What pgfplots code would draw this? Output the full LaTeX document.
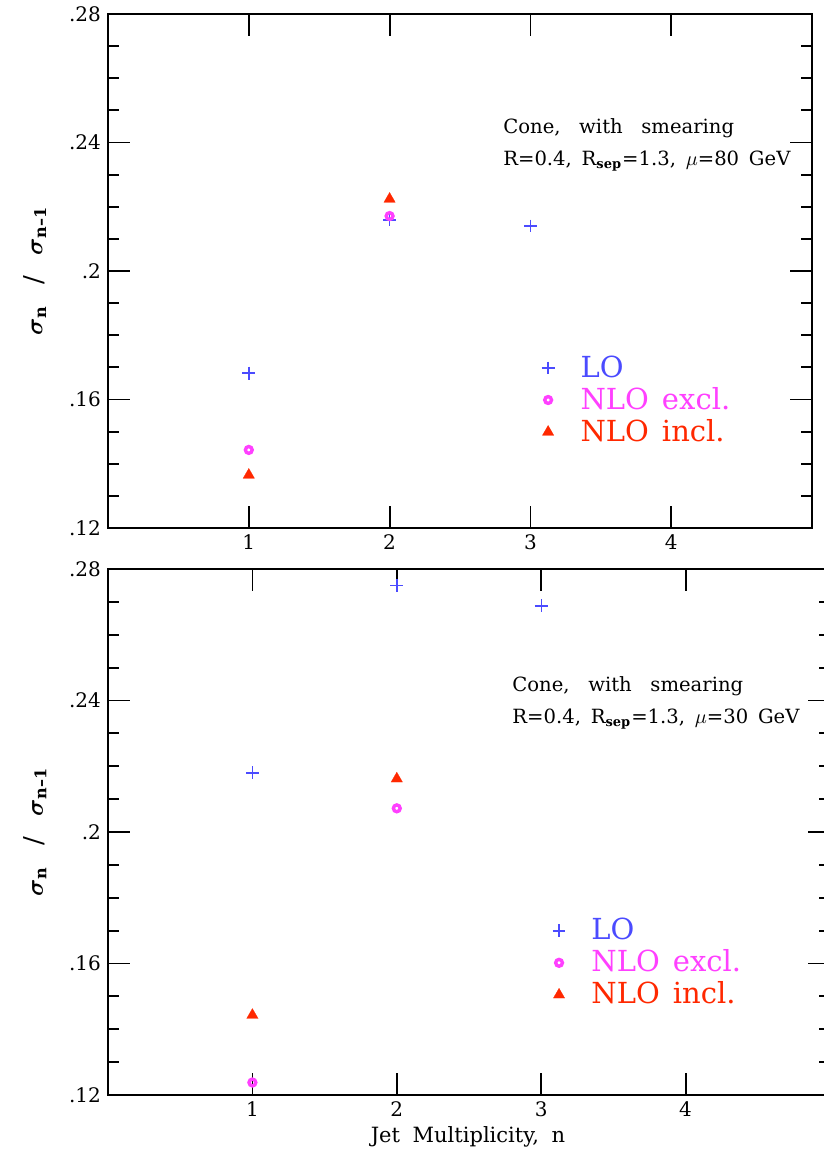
\documentclass[border=0pt]{standalone}
\usepackage{pgfplots}
\pgfplotsset{compat=1.18}
\usepackage{fontspec}
\setmainfont{DejaVu Serif}
\definecolor{LOblue}{RGB}{75,75,255}
\definecolor{NLOmag}{RGB}{255,64,255}
\definecolor{NLOred}{RGB}{255,40,0}
\newcommand{\sub}[1]{$_{\mbox{\fontsize{6.5}{7}\selectfont\bfseries #1}}$}
\newcommand{\lsub}[1]{$_{\mbox{\fontsize{8}{8}\selectfont\bfseries #1}}$}
\tikzset{ann/.style={anchor=base west, inner sep=0pt, font=\fontsize{9.8}{11}\selectfont}}
\pgfplotsset{
  panel/.style={
    scale only axis, xmin=0, xmax=5, ymin=0.12, ymax=0.28,
    xtick={1,2,3,4}, ytick={0.12,0.16,0.2,0.24,0.28},
    yticklabels={.12,.16,.2,.24,.28},
    minor y tick num=3,
    major tick length=10.8pt, minor tick length=5.5pt,
    tick align=inside,
    axis line style={line width=1pt},
    every tick/.style={black, line width=0.9pt},
    tick label style={font=\fontsize{10}{12}\selectfont},
    /pgf/number format/assume math mode=true,
    ylabel={$\boldsymbol{\sigma}$\lsub{n}\hspace{0.8em}/\hspace{0.8em}$\boldsymbol{\sigma}$\lsub{n--1}},
    ylabel style={font=\fontsize{13}{14}\selectfont, anchor=center},
    legend cell align=left,
    legend style={anchor=north west, draw=none, fill=none,
      font=\fontsize{14.5}{16}\selectfont,
      nodes={inner sep=1pt, text height=11pt, text depth=2pt},
      row sep=1pt,
      /tikz/every odd column/.append style={column sep=12pt}},
  },
  lo/.style={only marks, mark=+, color=LOblue, mark size=3.2pt, line width=0.7pt},
  nloex/.style={only marks, mark=o, color=NLOmag, mark size=1.7pt, line width=1.7pt},
  nloin/.style={only marks, mark=triangle*, color=NLOred, mark size=3.3pt, line width=0.1pt},
}
\usepackage{amsmath}
\usepackage{bm}
\begin{document}
\begin{tikzpicture}
\useasboundingbox (0,0) rectangle (412pt,575.5pt);
\clip (0,0) rectangle (412pt,575.5pt);
% top panel
\begin{axis}[panel, at={(54pt,311.5pt)}, anchor=south west, width=352pt, height=257pt,
  ylabel style={at={(axis description cs:-0.104,0.5)}},
  legend style={at={(axis description cs:0.607,0.349)}}]
\addplot[lo] coordinates {(1,0.1682) (2,0.2159) (3,0.2140)};
\addlegendentry{\textcolor{LOblue}{LO}}
\addplot[nloex] coordinates {(1,0.1443) (2,0.2171)};
\addlegendentry{\textcolor{NLOmag}{NLO\hspace{0.45em}excl.}}
\addplot[nloin] coordinates {(1,0.1365) (2,0.2224)};
\addlegendentry{\textcolor{NLOred}{NLO\hspace{0.45em}incl.}}
\node[ann] at (axis description cs:0.561,0.768) {Cone,\hspace{0.95em}with\hspace{0.95em}smearing};
\node[ann] at (axis description cs:0.561,0.706) {R=0.4,\hspace{0.5em}R\sub{sep}=1.3,\hspace{0.5em}$\mu$=80\hspace{0.5em}GeV};
\end{axis}
% bottom panel
\begin{axis}[panel, at={(54pt,28pt)}, anchor=south west, width=361pt, height=263pt,
  ylabel style={at={(axis description cs:-0.101,0.5)}},
  xlabel={Jet\hspace{0.6em}Multiplicity,\hspace{0.6em}n},
  xlabel style={font=\fontsize{10.5}{12}\selectfont, at={(axis description cs:0.4986,-0.08)}, anchor=center},
  legend style={at={(axis description cs:0.607,0.349)}}]
\addplot[lo] coordinates {(1,0.2180) (2,0.2750) (3,0.2688)};
\addlegendentry{\textcolor{LOblue}{LO}}
\addplot[nloex] coordinates {(1,0.1238) (2,0.2072)};
\addlegendentry{\textcolor{NLOmag}{NLO\hspace{0.45em}excl.}}
\addplot[nloin] coordinates {(1,0.1443) (2,0.2162)};
\addlegendentry{\textcolor{NLOred}{NLO\hspace{0.45em}incl.}}
\node[ann] at (axis description cs:0.5596,0.767) {Cone,\hspace{0.95em}with\hspace{0.95em}smearing};
\node[ann] at (axis description cs:0.5596,0.707) {R=0.4,\hspace{0.5em}R\sub{sep}=1.3,\hspace{0.5em}$\mu$=30\hspace{0.5em}GeV};
\end{axis}
\end{tikzpicture}
\end{document}
